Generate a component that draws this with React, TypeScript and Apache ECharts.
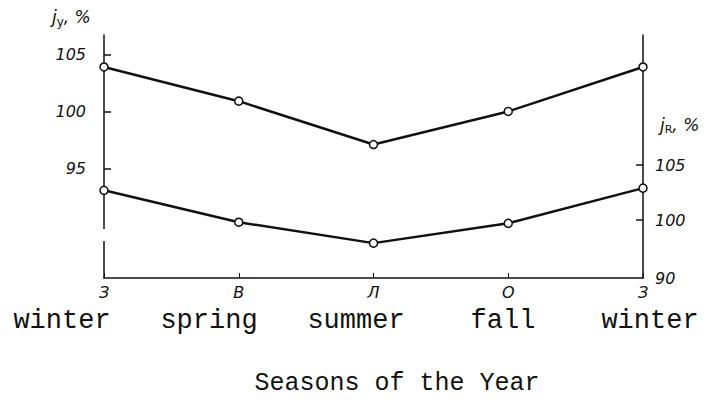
import React, { useEffect, useRef } from "react";
import * as echarts from "echarts";

const seasonLetters = ["З", "В", "Л", "О", "З"];
const seasonNames = ["winter", "spring", "summer", "fall", "winter"];
const upperValues = [103.9, 100.9, 97.1, 100.0, 103.9]; // left axis (j_y, %)
const lowerValues = [102.7, 99.8, 97.9, 99.7, 102.9]; // right axis (j_R, %)
const leftTicks = [95, 100, 105];
const rightTicks = [100, 105];
const leftMin = 85.4;
const leftMax = 106.7;
const rightMin = 94.73;
const rightMax = 116.82;
const xTitle = "Seasons of the Year";

export default function App() {
  const ref = useRef<HTMLDivElement>(null);
  useEffect(() => {
    document.body.style.margin = "0";
    const chart = echarts.init(ref.current!, null, { renderer: "svg" });
    const italic = { fontFamily: "DejaVu Sans", fontStyle: "italic" as const, fontSize: 16, color: "#111" };
    const line = { color: "#111", width: 1.5 };
    chart.setOption({
      animation: false,
      backgroundColor: "#fff",
      title: {
        text: xTitle,
        left: 392,
        top: 366,
        textAlign: "center",
        textStyle: { fontFamily: "Liberation Mono", fontWeight: "normal", fontSize: 25, color: "#111" },
      },
      grid: [
        { left: 104, right: 67, top: 35, bottom: 124 },
        { left: 62, right: 60, top: 35, bottom: 124 },
      ],
      xAxis: [
        {
          type: "category",
          gridIndex: 0,
          data: seasonLetters,
          boundaryGap: false,
          axisLine: { lineStyle: line },
          axisTick: { inside: true, length: 5, lineStyle: { color: "#111", width: 1 } },
          axisLabel: { ...italic, fontSize: 16, margin: 6 },
        },
        {
          type: "category",
          gridIndex: 1,
          data: seasonNames,
          boundaryGap: false,
          axisLine: { show: false },
          axisTick: { show: false },
          axisLabel: { fontFamily: "Liberation Mono", fontSize: 27, color: "#111", margin: 29 },
        },
      ],
      yAxis: [
        {
          type: "value",
          gridIndex: 0,
          min: leftMin,
          max: leftMax,
          splitLine: { show: false },
          axisLine: { show: true, lineStyle: line },
          axisTick: { show: true, inside: true, length: 7, customValues: leftTicks, lineStyle: { color: "#111", width: 1.5 } },
          axisLabel: { ...italic, margin: 18, customValues: leftTicks },
        },
        {
          type: "value",
          gridIndex: 0,
          position: "right",
          min: rightMin,
          max: rightMax,
          splitLine: { show: false },
          axisLine: { show: true, lineStyle: line },
          axisTick: { show: true, inside: true, length: 7, customValues: rightTicks, lineStyle: { color: "#111", width: 1.5 } },
          axisLabel: {
            ...italic,
            margin: 12,
            customValues: [rightMin, ...rightTicks],
            formatter: (v: number) => (v < 96 ? "90" : String(Math.round(v))),
          },
        },
        { type: "value", gridIndex: 1, show: false },
      ],
      graphic: [
        { type: "rect", left: 100, top: 229, shape: { width: 8, height: 12 }, style: { fill: "#fff" }, z: 100 },
        {
          type: "text",
          left: 52,
          top: 8,
          style: {
            text: "{a|j}{b|y}{a|, %}",
            rich: {
              a: { fontFamily: "DejaVu Sans", fontStyle: "italic", fontSize: 17, fill: "#111" },
              b: { fontFamily: "DejaVu Sans", fontSize: 12, fill: "#111", padding: [10, 0, 0, 0] },
            },
          },
        },
        {
          type: "text",
          left: 660,
          top: 116,
          style: {
            text: "{a|j}{b|R}{a|, %}",
            rich: {
              a: { fontFamily: "DejaVu Sans", fontStyle: "italic", fontSize: 17, fill: "#111" },
              b: { fontFamily: "DejaVu Sans", fontSize: 11, fill: "#111", padding: [10, 0, 0, 0] },
            },
          },
        },
      ],
      series: [
        {
          type: "line",
          xAxisIndex: 0,
          yAxisIndex: 0,
          data: upperValues,
          symbol: "circle",
          symbolSize: 8,
          lineStyle: { color: "#111", width: 2.5 },
          itemStyle: { color: "#fff", borderColor: "#111", borderWidth: 1.5 },
          z: 3,
        },
        {
          type: "line",
          xAxisIndex: 0,
          yAxisIndex: 1,
          data: lowerValues,
          symbol: "circle",
          symbolSize: 8,
          lineStyle: { color: "#111", width: 2.5 },
          itemStyle: { color: "#fff", borderColor: "#111", borderWidth: 1.5 },
          z: 3,
        },
      ],
    });
    return () => chart.dispose();
  }, []);
  return <div ref={ref} style={{ width: 710, height: 402 }} />;
}
